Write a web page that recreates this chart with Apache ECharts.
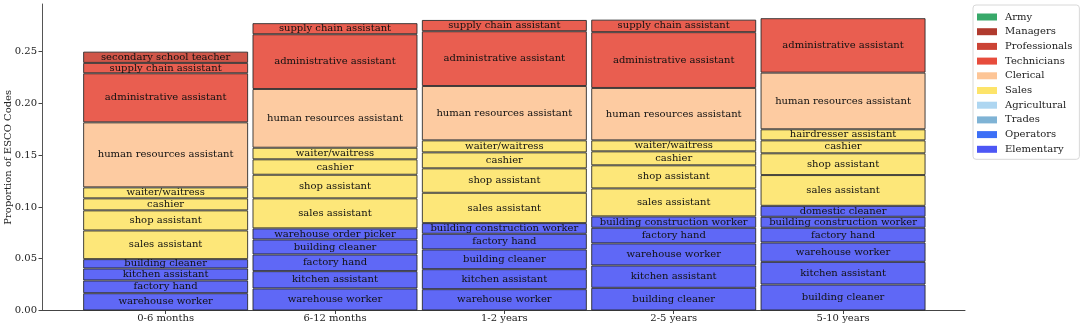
<!DOCTYPE html>
<html>
<head>
<meta charset="utf-8">
<script src="https://cdn.jsdelivr.net/npm/echarts@6/dist/echarts.min.js"></script>
<style>html,body{margin:0;padding:0;background:#fff;}#c{width:1080px;height:328px;}</style>
</head>
<body>
<div id="c"></div>
<script>
// ---- data ----
const categories = ['0-6 months', '6-12 months', '1-2 years', '2-5 years', '5-10 years'];
const yTicks = [0, 0.05, 0.10, 0.15, 0.20, 0.25];
const legendGroups = ['Army', 'Managers', 'Professionals', 'Technicians', 'Clerical', 'Sales', 'Agricultural', 'Trades', 'Operators', 'Elementary'];

// segments, bottom to top
const occ_0_6 = ['warehouse worker', 'factory hand', 'kitchen assistant', 'building cleaner', 'sales assistant', 'shop assistant', 'cashier', 'waiter/waitress', 'human resources assistant', 'administrative assistant', 'supply chain assistant', 'secondary school teacher'];
const val_0_6 = [0.0167, 0.0123, 0.0116, 0.0090, 0.0277, 0.0194, 0.0116, 0.0106, 0.0628, 0.0474, 0.0100, 0.0109];
const grp_0_6 = ['Elementary', 'Elementary', 'Elementary', 'Elementary', 'Sales', 'Sales', 'Sales', 'Sales', 'Clerical', 'Technicians', 'Technicians', 'Professionals'];

const occ_6_12 = ['warehouse worker', 'kitchen assistant', 'factory hand', 'building cleaner', 'warehouse order picker', 'sales assistant', 'shop assistant', 'cashier', 'waiter/waitress', 'human resources assistant', 'administrative assistant', 'supply chain assistant'];
const val_6_12 = [0.0213, 0.0167, 0.0161, 0.0145, 0.0107, 0.0290, 0.0228, 0.0149, 0.0112, 0.0567, 0.0529, 0.0107];
const grp_6_12 = ['Elementary', 'Elementary', 'Elementary', 'Elementary', 'Elementary', 'Sales', 'Sales', 'Sales', 'Sales', 'Clerical', 'Technicians', 'Technicians'];

const occ_1_2 = ['warehouse worker', 'kitchen assistant', 'building cleaner', 'factory hand', 'building construction worker', 'sales assistant', 'shop assistant', 'cashier', 'waiter/waitress', 'human resources assistant', 'administrative assistant', 'supply chain assistant'];
const val_1_2 = [0.0206, 0.0193, 0.0191, 0.0151, 0.0103, 0.0293, 0.0236, 0.0154, 0.0116, 0.0525, 0.0529, 0.0109];
const grp_1_2 = ['Elementary', 'Elementary', 'Elementary', 'Elementary', 'Elementary', 'Sales', 'Sales', 'Sales', 'Sales', 'Clerical', 'Technicians', 'Technicians'];

const occ_2_5 = ['building cleaner', 'kitchen assistant', 'warehouse worker', 'factory hand', 'building construction worker', 'sales assistant', 'shop assistant', 'cashier', 'waiter/waitress', 'human resources assistant', 'administrative assistant', 'supply chain assistant'];
const val_2_5 = [0.0219, 0.0216, 0.0213, 0.0151, 0.0110, 0.0270, 0.0223, 0.0135, 0.0106, 0.0506, 0.0539, 0.0121];
const grp_2_5 = ['Elementary', 'Elementary', 'Elementary', 'Elementary', 'Elementary', 'Sales', 'Sales', 'Sales', 'Sales', 'Clerical', 'Technicians', 'Technicians'];

const occ_5_10 = ['building cleaner', 'kitchen assistant', 'warehouse worker', 'factory hand', 'building construction worker', 'domestic cleaner', 'sales assistant', 'shop assistant', 'cashier', 'hairdresser assistant', 'human resources assistant', 'administrative assistant'];
const val_5_10 = [0.0251, 0.0219, 0.0187, 0.0142, 0.0106, 0.0106, 0.0297, 0.0210, 0.0125, 0.0107, 0.0547, 0.0526];
const grp_5_10 = ['Elementary', 'Elementary', 'Elementary', 'Elementary', 'Elementary', 'Elementary', 'Sales', 'Sales', 'Sales', 'Sales', 'Clerical', 'Technicians'];

// ---- styles ----
const groupColors = {
  Army: '#38a96a', Managers: '#b03a2e', Professionals: '#cb4335', Technicians: '#e74c3c',
  Clerical: '#fdc596', Sales: '#fde46a', Agricultural: '#aed6f1', Trades: '#7fb3d5',
  Operators: '#3c6ff6', Elementary: '#4d57f5'
};
function fade(hex, a) {
  const r = parseInt(hex.slice(1, 3), 16), g = parseInt(hex.slice(3, 5), 16), b = parseInt(hex.slice(5, 7), 16);
  const f = v => Math.round(v * a + 255 * (1 - a));
  return 'rgb(' + f(r) + ',' + f(g) + ',' + f(b) + ')';
}
const FONT = 'DejaVu Serif';

const occs = [occ_0_6, occ_6_12, occ_1_2, occ_2_5, occ_5_10];
const vals = [val_0_6, val_6_12, val_1_2, val_2_5, val_5_10];
const grps = [grp_0_6, grp_6_12, grp_1_2, grp_2_5, grp_5_10];
const nLevels = Math.max(...vals.map(v => v.length));

const series = [];
for (let k = 0; k < nLevels; k++) {
  series.push({
    type: 'bar',
    name: 'level' + k,
    stack: 'total',
    barWidth: 165,
    encode: { x: 1, y: 0 },
    itemStyle: { borderColor: 'rgba(35,35,35,0.85)', borderWidth: 1 },
    label: {
      show: true, position: 'inside', formatter: '{b}',
      color: '#111', fontFamily: FONT, fontSize: 10
    },
    emphasis: { disabled: true },
    data: categories.map((c, i) => ({
      name: occs[i][k],
      value: [vals[i][k], i],
      itemStyle: { color: fade(groupColors[grps[i][k]], 0.9) }
    }))
  });
}
legendGroups.forEach(g => {
  series.push({ type: 'bar', name: g, stack: 'total', barWidth: 165, encode: { x: 1, y: 0 }, itemStyle: { color: groupColors[g] }, data: [] });
});

const chart = echarts.init(document.getElementById('c'), null, { renderer: 'canvas' });
chart.setOption({
  animation: false,
  backgroundColor: '#fff',
  grid: { left: 42, right: 115, top: 4, bottom: 17.5, containLabel: false, outerBoundsMode: 'none' },
  legend: {
    data: legendGroups,
    orient: 'vertical',
    left: 973, top: 5,
    padding: [7, 7, 5, 4],
    itemWidth: 20, itemHeight: 7, itemGap: 4.7,
    icon: 'rect',
    borderColor: '#d8d8d8', borderWidth: 1, borderRadius: 3,
    textStyle: { fontFamily: FONT, fontSize: 10, color: '#222', padding: [0, 0, 0, 3], lineHeight: 10 },
    selectedMode: false
  },
  xAxis: {
    type: 'value', min: -0.73, max: 4.72,
    splitLine: { show: false },
    axisLine: { show: true, onZero: false, lineStyle: { color: '#444', width: 1 } },
    axisTick: { show: true, length: 3.5, customValues: categories.map((c, i) => i), lineStyle: { color: '#444' } },
    axisLabel: {
      customValues: categories.map((c, i) => i), margin: 3,
      formatter: v => categories[Math.round(v)] || '',
      fontFamily: FONT, fontSize: 10, color: '#222'
    }
  },
  yAxis: {
    type: 'value', min: 0, max: 0.296,
    name: 'Proportion of ESCO Codes', nameLocation: 'middle', nameRotate: 90, nameGap: 29,
    nameMoveOverlap: false,
    nameTextStyle: { fontFamily: FONT, fontSize: 10, color: '#222' },
    splitLine: { show: false },
    axisLine: { show: true, onZero: false, lineStyle: { color: '#555', width: 1 } },
    axisTick: { show: true, length: 3.5, customValues: yTicks, lineStyle: { color: '#444' } },
    axisLabel: {
      customValues: yTicks, margin: 5,
      formatter: v => v.toFixed(2),
      fontFamily: FONT, fontSize: 10, color: '#222'
    }
  },
  series: series
});
</script>
</body>
</html>
